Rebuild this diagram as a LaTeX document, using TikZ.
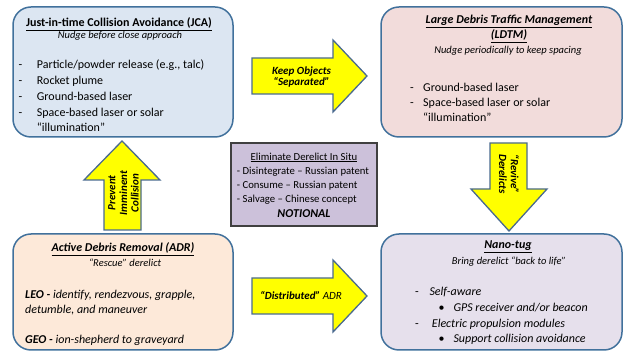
\documentclass[tikz,border=0pt]{standalone}
\usepackage{fontspec}
\setmainfont{Carlito}
\definecolor{boxline}{HTML}{41719C}
\definecolor{arrline}{HTML}{4A6A8F}
\definecolor{jcafill}{HTML}{DCE6F2}
\definecolor{ldtmfill}{HTML}{F2DCDB}
\definecolor{adrfill}{HTML}{FDE9D9}
\definecolor{nanofill}{HTML}{E6E0EC}
\definecolor{ctrfill}{HTML}{CCC1DA}
\definecolor{ctrline}{HTML}{404040}
\definecolor{arrfill}{HTML}{FFFF00}
\newcommand\szA{\fontsize{12}{14}\selectfont}
\newcommand\szB{\fontsize{10.5}{12}\selectfont}
\newcommand\szC{\fontsize{10.7}{13}\selectfont}
\begin{document}
\begin{tikzpicture}[x=1pt,y=-1pt,
  box/.style={draw=boxline, line width=1.5pt, rounded corners=18pt, inner sep=0pt},
  barrow/.style={draw=arrline, line width=1.3pt, fill=arrfill, line join=miter},
  tl/.style={anchor=base west, inner sep=0pt, font=\szA},
  tc/.style={anchor=base, inner sep=0pt, font=\szA},
  sub/.style={anchor=base, inner sep=0pt, font=\szB\itshape},
  cl/.style={anchor=base west, inner sep=0pt, font=\szC},
  atext/.style={inner sep=0pt, align=center, font=\fontsize{11}{11.7}\selectfont\bfseries\itshape}
]
\useasboundingbox (0,0) rectangle (630,352);

% boxes
\node[box, fill=jcafill, minimum width=220pt, minimum height=130pt] (jca) at (123,72) {};
\node[box, fill=ldtmfill, minimum width=241pt, minimum height=130pt] (ldtm) at (501.5,72) {};
\node[draw=ctrline, line width=1.2pt, fill=ctrfill, inner sep=0pt, minimum width=146pt, minimum height=83pt] (ctr) at (304,184.5) {};
\node[box, fill=adrfill, minimum width=220pt, minimum height=116pt] (adr) at (123,292) {};
\node[box, fill=nanofill, minimum width=241pt, minimum height=116pt] (nano) at (501.5,292) {};

% block arrows
\draw[barrow] (252,58) -- (333,58) -- (333,40) -- (367,76) -- (333,112) -- (333,94) -- (252,94) -- cycle;
\draw[barrow] (252,278) -- (333,278) -- (333,260) -- (367,296) -- (333,332) -- (333,314) -- (252,314) -- cycle;
\draw[barrow] (104,230) -- (104,180) -- (84,180) -- (122,141) -- (160,180) -- (141,180) -- (141,230) -- cycle;
\draw[barrow] (490,143) -- (527,143) -- (527,189) -- (547,189) -- (509,231) -- (471,189) -- (490,189) -- cycle;

\node[atext] (keeptxt) at (301.5,77) {Keep Objects\\“Separated”};
\node[inner sep=0pt, anchor=base, font=\fontsize{11}{13}\selectfont\itshape] (disttxt) at (301,300) {\textbf{“Distributed”} ADR};
\node[atext, rotate=90] (prevtxt) at (123.5,193) {Prevent\\Imminent\\Collision};
\node[atext, rotate=-90] (revtxt) at (509,174) {“Revive”\\Derelicts};

% JCA text
\node[tc] (jcat) at (119,27) {\underline{\textbf{Just-in-time Collision Avoidance (JCA)}}};
\node[sub] (jcas) at (120,38.5) {Nudge before close approach};
\node[tl] (jd1) at (18.3,68.5) {-};
\node[tl] (jl1) at (36.7,68.5) {Particle/powder release (e.g., talc)};
\node[tl] (jd2) at (18.3,84.3) {-};
\node[tl] (jl2) at (36.7,84.3) {Rocket plume};
\node[tl] (jd3) at (18.3,100.8) {-};
\node[tl] (jl3) at (36.7,100.8) {Ground-based laser};
\node[tl] (jd4) at (18.3,116.6) {-};
\node[tl] (jl4) at (36.7,116.6) {Space-based laser or solar};
\node[tl] (jl5) at (36.7,131.8) {“illumination”};

% LDTM text
\node[tc] (ldt1) at (509,24) {\underline{\textbf{\textit{Large Debris Traffic Management}}}};
\node[tc] (ldt2) at (509,39) {\underline{\textbf{\textit{(LDTM)}}}};
\node[sub] (lds) at (508,53.5) {Nudge periodically to keep spacing};
\node[tl] (ld1) at (410,91.2) {-};
\node[tl] (ll1) at (423,91.2) {Ground-based laser};
\node[tl] (ld2) at (410,106.8) {-};
\node[tl] (ll2) at (423,106.8) {Space-based laser or solar};
\node[tl] (ll3) at (423,121.8) {“illumination”};

% centre text
\node[anchor=base, inner sep=0pt, font=\szC] (ct) at (304,160.2) {\underline{Eliminate Derelict In Situ}};
\node[cl] (c1) at (236.7,174.2) {- Disintegrate – Russian patent};
\node[cl] (c2) at (236.7,188.3) {- Consume – Russian patent};
\node[cl] (c3) at (236.7,202.5) {- Salvage – Chinese concept};
\node[tc] (cn) at (304,217.5) {\textbf{\textit{NOTIONAL}}};

% ADR text
\node[tc] (adt) at (123,252) {\underline{\textbf{\textit{Active Debris Removal (ADR)}}}};
\node[sub] (ads) at (125,266.5) {“Rescue” derelict};
\node[tl, font=\szA\itshape] (a1) at (25,298.5) {\textbf{LEO -} identify, rendezvous, grapple,};
\node[tl, font=\szA\itshape] (a2) at (25,313.5) {detumble, and maneuver};
\node[tl, font=\szA\itshape] (a3) at (25,343.5) {\textbf{GEO -} ion-shepherd to graveyard};

% Nano-tug text
\node[tc] (nt) at (508,249) {\underline{\textbf{\textit{Nano-tug}}}};
\node[sub] (ns) at (509,264.5) {Bring derelict “back to life”};
\node[tl] (nd1) at (415,295.5) {-};
\node[tl, font=\szA\itshape] (n1) at (429.3,295.5) {Self-aware};
\node[tl] (nb1) at (438.5,311.5) {•};
\node[tl, font=\szA\itshape] (n2) at (453.3,311.5) {GPS receiver and/or beacon};
\node[tl] (nd2) at (415,327.5) {-};
\node[tl, font=\szA\itshape] (n3) at (431.7,327.5) {Electric propulsion modules};
\node[tl] (nb2) at (438.5,342.8) {•};
\node[tl, font=\szA\itshape] (n4) at (453.3,342.8) {Support collision avoidance};
\end{tikzpicture}
\end{document}
